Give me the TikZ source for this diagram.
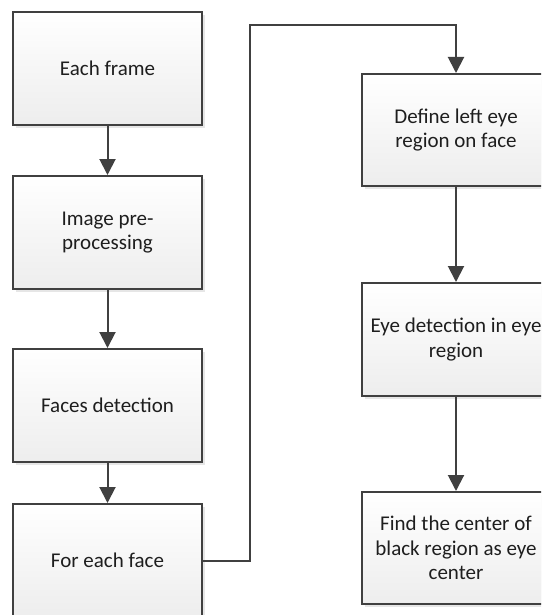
\documentclass[tikz,border=0pt]{standalone}
\usepackage{fontspec}
\setmainfont{Carlito}
\usetikzlibrary{arrows.meta,shadows}
\definecolor{ln}{HTML}{404040}
\definecolor{txt}{HTML}{1E1E1E}
\tikzset{
  boxnode/.style={draw=ln, line width=2pt, top color=white, bottom color=black!7,
    minimum width=189pt, minimum height=113pt, inner sep=0pt, align=center,
    text=txt, font=\fontsize{21}{24.5}\selectfont,
    drop shadow={shadow xshift=3pt, shadow yshift=-3pt, fill=black!12, opacity=0.8}},
  conn/.style={draw=ln, line width=2pt, -{Triangle[length=16pt,width=16pt]}},
  plainline/.style={draw=ln, line width=2pt}
}
\begin{document}
\begin{tikzpicture}[x=1pt,y=-1pt]
\useasboundingbox (0,0) rectangle (541,615);
\clip (0,0) rectangle (541,615);
\fill[white] (0,0) rectangle (541,615);
\node[boxnode] (b1) at (107.5,68.5) {Each frame};
\node[boxnode] (b2) at (107.5,232.5) {Image pre-\\processing};
\node[boxnode] (b3) at (107.5,405.5) {Faces detection};
\node[boxnode] (b4) at (107.5,560.5) {For each face};
\node[boxnode, minimum width=188pt, minimum height=112pt] (b5) at (456,130) {Define left eye\\region on face};
\node[boxnode, minimum width=188pt] (b6) at (456,339.5) {Eye detection in eye\\region};
\node[boxnode, minimum width=188pt, minimum height=112pt] (b7) at (456,548) {Find the center of\\black region as eye\\center};
\coordinate (c1) at (250,25);
\draw[conn] (b1) -- (b2);
\draw[conn] (b2) -- (b3);
\draw[conn] (b3) -- (b4);
\draw[conn] (b4.east) -| (c1) -| (b5.north);
\draw[conn] (b5) -- (b6);
\draw[conn] (b6) -- (b7);
\end{tikzpicture}
\end{document}
